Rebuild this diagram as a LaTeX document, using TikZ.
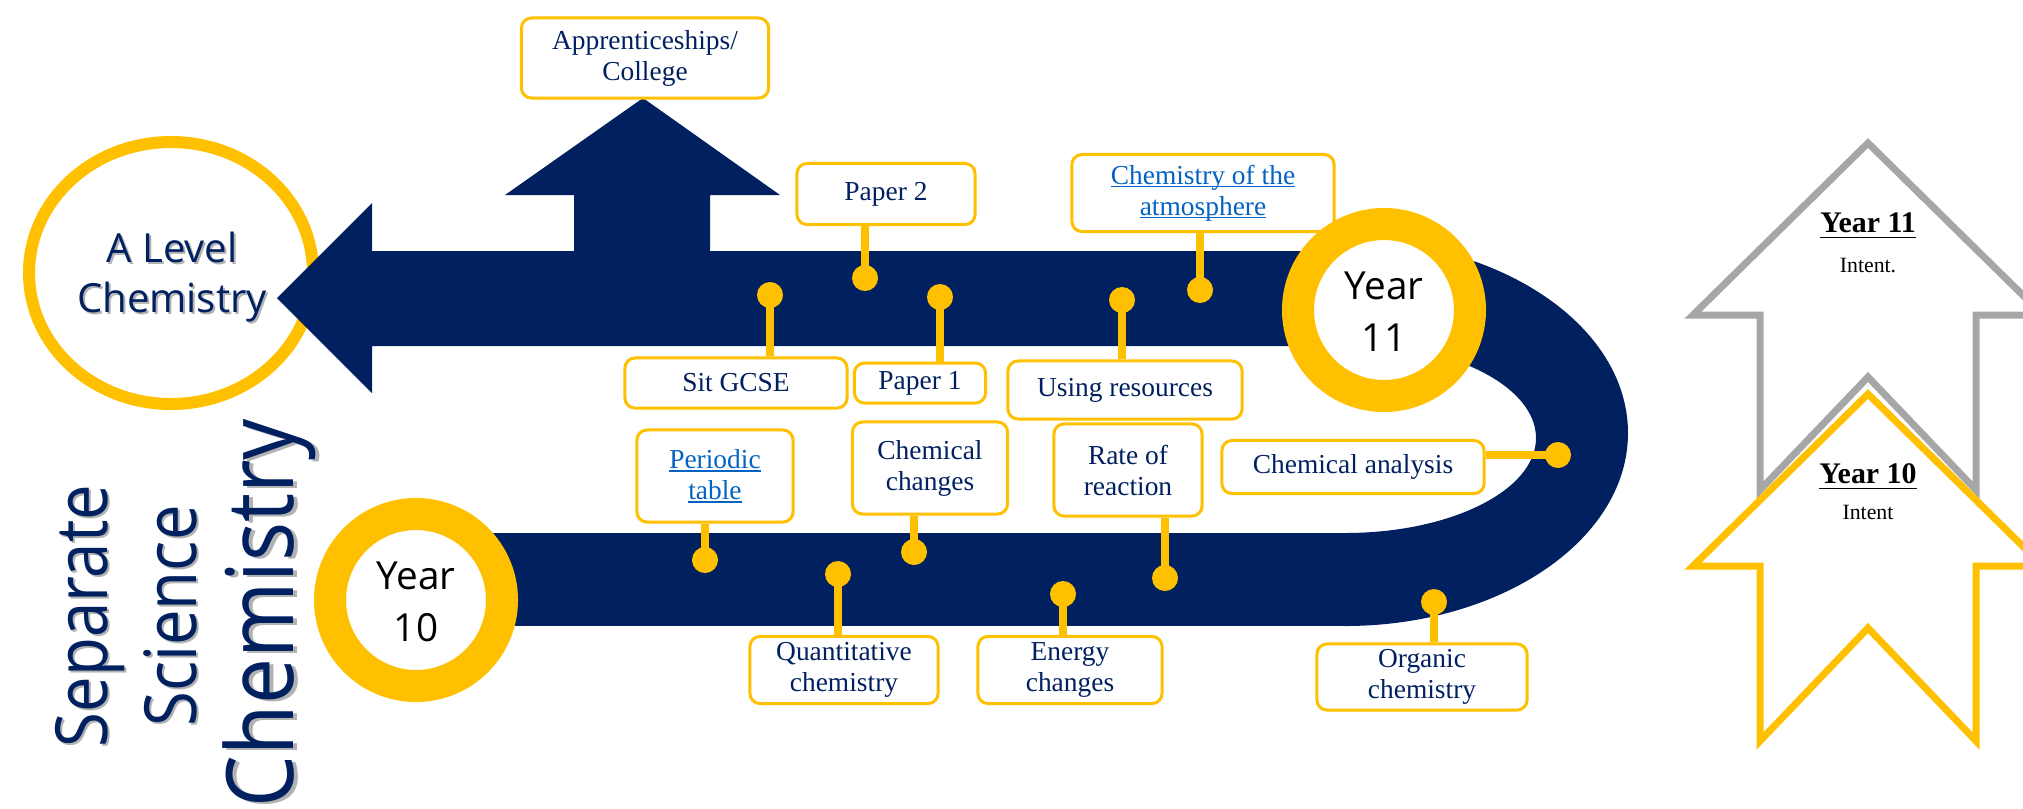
\documentclass[tikz,border=0pt]{standalone}
\usepackage{fontspec}
\setmainfont{Liberation Serif}
\newfontfamily\headfont{Open Sans}
\newfontfamily\tallfont[FakeStretch=0.88]{Open Sans}
\usetikzlibrary{positioning}
\usetikzlibrary{calc}
\definecolor{navy}{HTML}{002060}
\definecolor{gold}{HTML}{FFC000}
\definecolor{silver}{HTML}{A6A6A6}
\definecolor{linkblue}{HTML}{0563C1}
\newsavebox\lnkbox
\newcommand\lnk[1]{\sbox\lnkbox{#1}\rlap{\rule[-0.9pt]{\wd\lnkbox}{0.45pt}}\usebox\lnkbox}

\begin{document}
\begin{tikzpicture}[x=0.01cm, y=-0.01cm,
    topic/.style={draw=gold, line width=0.03cm, fill=white, rounded corners=0.1cm,
        inner sep=0, align=center, text=navy, font=\fontsize{7.8}{8.8}\selectfont},
    link/.style={topic, text=linkblue},
    pin/.style={circle, fill=gold, inner sep=0, minimum size=0.26cm},
    stem/.style={draw=gold, line width=0.08cm},
    yearring/.style={draw=gold, fill=white, line width=0.32cm},
    yeartext/.style={align=center, font=\headfont\fontsize{11}{14.8}\selectfont},
    bigtext/.style={rotate=90, anchor=base, text=navy},
    intent/.style={fill=white, line width=0.07cm}]
    \newcommand\ringrad{86}
    \newcommand\bandx{1345}

    \useasboundingbox (0, 0) rectangle (2023, 808);
    \clip (0, 0) rectangle (2023, 808);

    \draw[gold, line width=0.12cm, fill=white] (171, 273) ellipse [x radius=142, y radius=131];
    \node[align=center, text=black!30, font=\headfont\fontsize{11.4}{14.2}\selectfont]
        (alevel-shadow) at (174, 279) {A Level\\Chemistry};
    \node[align=center, text=navy, font=\headfont\fontsize{11.4}{14.2}\selectfont]
        (alevel) at (172, 277) {A Level\\Chemistry};

    \fill[navy] (277, 298) -- (372, 203) -- (372, 251) -- (1384, 251)
        -- (1384, 346) -- (372, 346) -- (372, 393) -- cycle;
    \fill[navy] (643, 98) -- (780, 195) -- (710, 195) -- (710, 252)
        -- (574, 252) -- (574, 195) -- (505, 195) -- cycle;
    \fill[navy] (416, 533) rectangle (\bandx, 626);
    \fill[navy] (\bandx, 240) arc[start angle=-90, end angle=90, x radius=283, y radius=193]
        -- (\bandx, 533) arc[start angle=90, end angle=-90, x radius=191, y radius=95] -- cycle;

    \node[bigtext, text=black!30, font=\tallfont\fontsize{20.5}{20.5}\selectfont] (separate-shadow) at (110, 618) {Separate};
    \node[bigtext, font=\tallfont\fontsize{20.5}{20.5}\selectfont] (separate) at (107, 616) {Separate};
    \node[bigtext, text=black!30, font=\tallfont\fontsize{20.5}{20.5}\selectfont] (science-shadow) at (199, 618) {Science};
    \node[bigtext, font=\tallfont\fontsize{20.5}{20.5}\selectfont] (science) at (196, 616) {Science};
    \node[bigtext, text=black!30, font=\tallfont\fontsize{26.5}{26.5}\selectfont] (chemistry-shadow) at (297, 615) {Chemistry};
    \node[bigtext, font=\tallfont\fontsize{26.5}{26.5}\selectfont] (chemistry) at (293, 613) {Chemistry};

    \draw[yearring] (416, 600) circle (\ringrad);
    \node[yeartext] (year10) at (416, 602) {Year\\10};

    \node[topic, minimum width=2.47cm, minimum height=0.80cm] (college) at (645, 58) {Apprenticeships/\\College};
    \node[topic, minimum width=1.78cm, minimum height=0.61cm] (paper2) at (886, 194) {Paper 2};
    \node[link, minimum width=2.62cm, minimum height=0.77cm] (atmosphere) at (1203, 193)
        {\lnk{Chemistry of the}\\\lnk{atmosphere}};
    \node[topic, minimum width=2.22cm, minimum height=0.50cm] (gcse) at (736, 383) {Sit GCSE};
    \node[topic, minimum width=1.31cm, minimum height=0.40cm] (paper1) at (920, 383) {Paper 1};
    \node[topic, minimum width=2.34cm, minimum height=0.58cm] (resources) at (1125, 390) {Using resources};
    \node[link, minimum width=1.56cm, minimum height=0.92cm] (periodic) at (715, 476)
        {\lnk{Periodic}\\\lnk{table}};
    \node[topic, minimum width=1.55cm, minimum height=0.92cm] (changes) at (930, 468) {Chemical\\changes};
    \node[topic, minimum width=1.48cm, minimum height=0.92cm] (rate) at (1128, 470) {Rate of\\reaction};
    \node[topic, minimum width=2.62cm, minimum height=0.53cm] (analysis) at (1353, 467) {Chemical analysis};
    \node[topic, minimum width=1.88cm, minimum height=0.67cm] (quantitative) at (844, 670) {Quantitative\\chemistry};
    \node[topic, minimum width=1.84cm, minimum height=0.67cm] (energy) at (1070, 670) {Energy\\changes};
    \node[topic, minimum width=2.10cm, minimum height=0.66cm] (organic) at (1422, 677) {Organic\\chemistry};

    \node[pin] (paper2-pin) at (865, 278) {};
    \node[pin] (atmosphere-pin) at (1200, 290) {};
    \node[pin] (gcse-pin) at (770, 295) {};
    \node[pin] (paper1-pin) at (940, 297) {};
    \node[pin] (resources-pin) at (1122, 300) {};
    \node[pin] (periodic-pin) at (705, 560) {};
    \node[pin] (changes-pin) at (914, 552) {};
    \node[pin] (rate-pin) at (1165, 578) {};
    \node[pin] (analysis-pin) at (1558, 455) {};
    \node[pin] (quantitative-pin) at (838, 574) {};
    \node[pin] (energy-pin) at (1063, 594) {};
    \node[pin] (organic-pin) at (1434, 602) {};

    \draw[stem] (paper2-pin.center) -- (paper2-pin.center |- paper2.south);
    \draw[stem] (atmosphere-pin.center) -- (atmosphere-pin.center |- atmosphere.south);
    \draw[stem] (gcse-pin.center) -- (gcse-pin.center |- gcse.north);
    \draw[stem] (paper1-pin.center) -- (paper1-pin.center |- paper1.north);
    \draw[stem] (resources-pin.center) -- (resources-pin.center |- resources.north);
    \draw[stem] (periodic-pin.center) -- (periodic-pin.center |- periodic.south);
    \draw[stem] (changes-pin.center) -- (changes-pin.center |- changes.south);
    \draw[stem] (rate-pin.center) -- (rate-pin.center |- rate.south);
    \draw[stem] (analysis-pin.center) -- (analysis-pin.center -| analysis.east);
    \draw[stem] (quantitative-pin.center) -- (quantitative-pin.center |- quantitative.north);
    \draw[stem] (energy-pin.center) -- (energy-pin.center |- energy.north);
    \draw[stem] (organic-pin.center) -- (organic-pin.center |- organic.north);

    \draw[yearring] (1384, 310) circle (\ringrad);
    \node[yeartext] (year11) at (1384, 312) {Year\\11};

    \draw[intent, draw=silver] (1868, 143) -- ++(175, 172) -- ++(-67, 0) -- ++(0, 175)
        -- ++(-108, -113) -- ++(-108, 113) -- ++(0, -175) -- ++(-67, 0) -- cycle;
    \node[anchor=base, font=\fontsize{8.5}{8.5}\selectfont\bfseries] (intent11) at (1868, 232) {\underline{Year 11}};
    \node[anchor=base, font=\fontsize{6.2}{6.2}\selectfont] (intent11-text) at (1868, 272) {Intent.};

    \draw[intent, draw=gold] (1868, 394) -- ++(175, 172) -- ++(-67, 0) -- ++(0, 175)
        -- ++(-108, -113) -- ++(-108, 113) -- ++(0, -175) -- ++(-67, 0) -- cycle;
    \node[anchor=base, font=\fontsize{8.5}{8.5}\selectfont\bfseries] (intent10) at (1868, 483) {\underline{Year 10}};
    \node[anchor=base, font=\fontsize{6.2}{6.2}\selectfont] (intent10-text) at (1868, 519) {Intent};
\end{tikzpicture}
\end{document}
